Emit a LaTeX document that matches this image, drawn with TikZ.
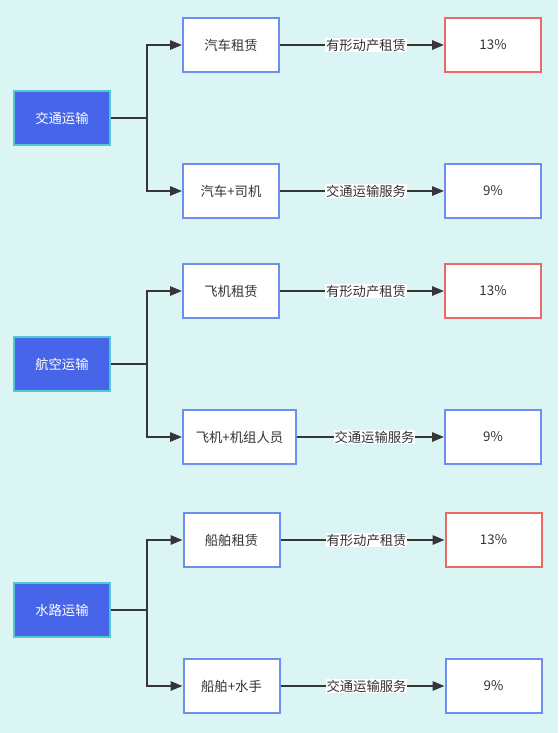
\documentclass[tikz,border=0pt]{standalone}
\usepackage{fontspec}
\setmainfont{Noto Sans CJK SC}
\usetikzlibrary{arrows.meta}
\definecolor{bgc}{HTML}{DAF5F3}
\definecolor{topfill}{HTML}{4765E8}
\definecolor{topline}{HTML}{52C8D2}
\definecolor{childline}{HTML}{6E8EF0}
\definecolor{redline}{HTML}{EA6B66}
\definecolor{txt}{HTML}{333333}
\definecolor{edgec}{HTML}{363636}
\tikzset{
  base/.style={rectangle, minimum width=72pt, minimum height=40.5pt, line width=1.5pt, inner sep=0pt, font=\fontsize{10}{12}\selectfont},
  topbox/.style={base, fill=topfill, draw=topline, text=white},
  childbox/.style={base, fill=white, draw=childline, text=txt},
  ratebox/.style={base, fill=white, draw=redline, text=txt},
  conn/.style={draw=edgec, line width=1.5pt, -{Triangle[length=9pt,width=7pt]}},
  seg/.style={draw=edgec, line width=1.5pt},
  lbl/.style={fill=white, text=txt, inner sep=0.6pt, font=\fontsize{10}{12}\selectfont}
}
\begin{document}
\begin{tikzpicture}[x=0.75pt,y=-0.75pt]
\fill[bgc] (0,0) rectangle (558,733);
\useasboundingbox (0,0) rectangle (558,733);
% group 1
\node[topbox] (t1) at (62,118) {交通运输};
\node[childbox] (a1) at (231,45) {汽车租赁};
\node[childbox] (b1) at (231,191) {汽车+司机};
\node[ratebox] (r1) at (493,45) {13\%};
\node[childbox] (s1) at (493,191) {9\%};
% group 2
\node[topbox] (t2) at (62,364) {航空运输};
\node[childbox] (a2) at (231,291) {飞机租赁};
\node[childbox, minimum width=84.75pt] (b2) at (239.5,437) {飞机+机组人员};
\node[ratebox] (r2) at (493,291) {13\%};
\node[childbox] (s2) at (493,437) {9\%};
% group 3
\node[topbox] (t3) at (62,610) {水路运输};
\node[childbox] (a3) at (231.5,540) {船舶租赁};
\node[childbox] (b3) at (231.5,686) {船舶+水手};
\node[ratebox] (r3) at (493.5,540) {13\%};
\node[childbox] (s3) at (493.5,686) {9\%};
% branch edges
\foreach \g in {1,2,3}{
  \draw[seg] (t\g.east) -- ++(36,0) coordinate (j\g);
  \draw[conn] (j\g) |- (a\g.west);
  \draw[conn] (j\g) |- (b\g.west);
}
% rate edges
\draw[conn] (a1.east) -- node[lbl, xshift=3pt] {有形动产租赁} (r1.west);
\draw[conn] (b1.east) -- node[lbl, xshift=3pt] {交通运输服务} (s1.west);
\draw[conn] (a2.east) -- node[lbl, xshift=3pt] {有形动产租赁} (r2.west);
\draw[conn] (b2.east) -- node[lbl, xshift=3pt] {交通运输服务} (s2.west);
\draw[conn] (a3.east) -- node[lbl, xshift=3pt] {有形动产租赁} (r3.west);
\draw[conn] (b3.east) -- node[lbl, xshift=3pt] {交通运输服务} (s3.west);
\end{tikzpicture}
\end{document}
